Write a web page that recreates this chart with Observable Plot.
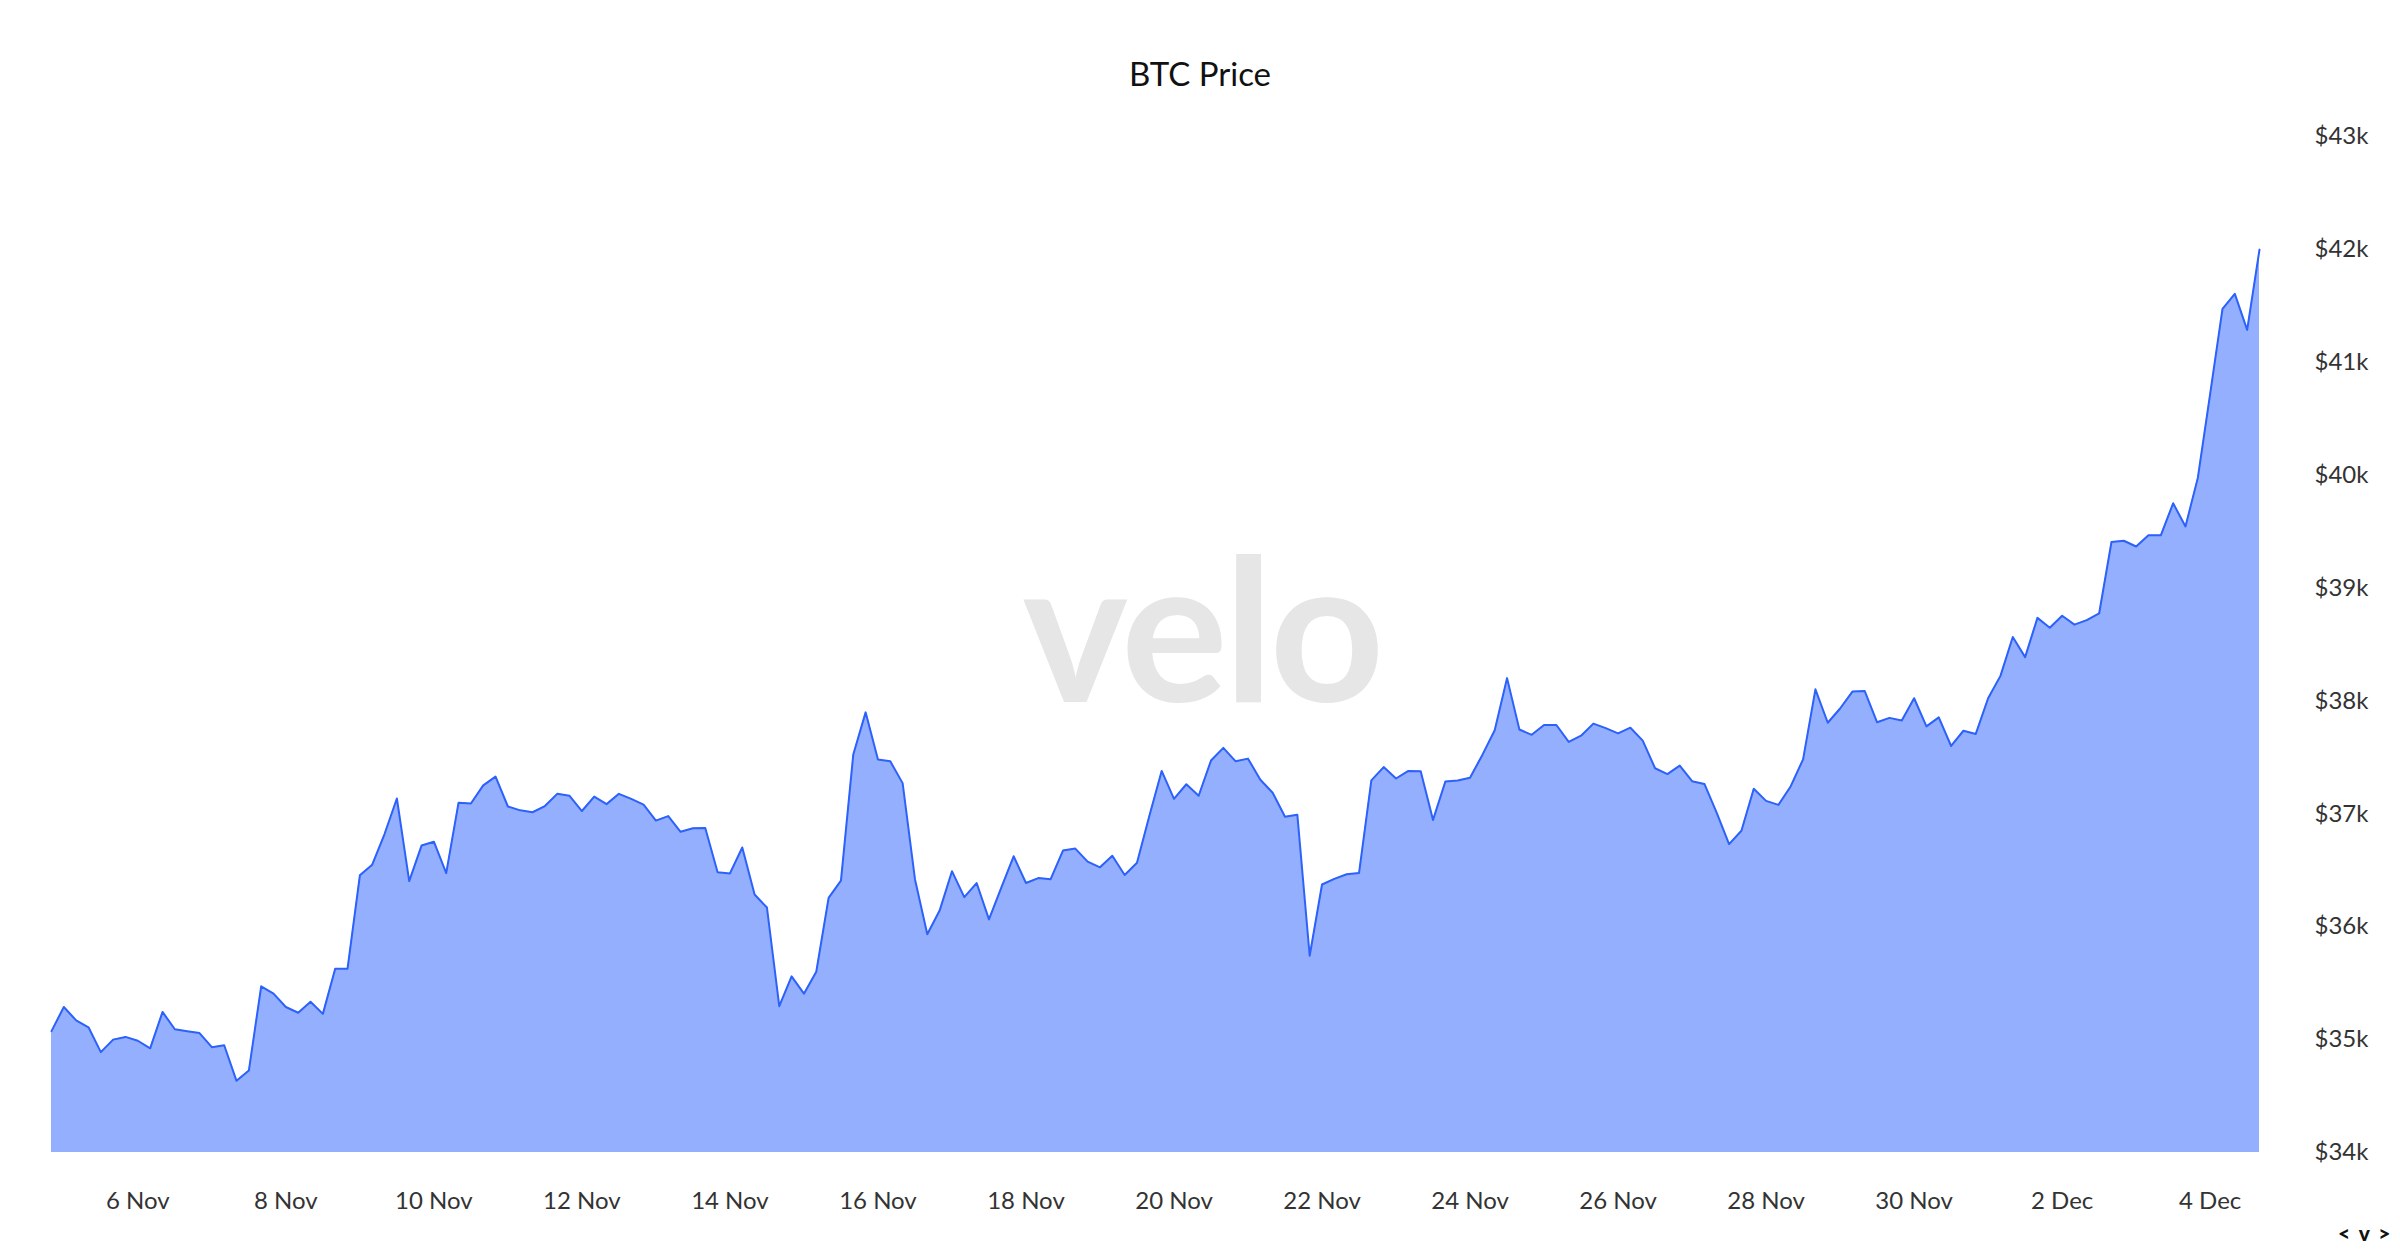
<!DOCTYPE html>
<html>
<head>
<meta charset="utf-8">
<script src="https://cdn.jsdelivr.net/npm/d3@7"></script>
<script src="https://cdn.jsdelivr.net/npm/@observablehq/plot@0.6"></script>
<style>
  html, body { margin: 0; padding: 0; background: #fff; overflow: hidden; }
  body { width: 2400px; height: 1256px; position: relative; font-family: Lato, "Noto Sans", sans-serif; }
  #title { height: 110px; box-sizing: border-box; padding-top: 56px; text-align: center; font-size: 33px; line-height: 34px; color: #111; }
  #nav { position: absolute; left: 2338px; top: 1220px; font-size: 21px; font-weight: 900; color: #111; letter-spacing: 2px; }
</style>
</head>
<body>
<div id="title">BTC Price</div>
<div id="chart"></div>
<div id="nav">&lt; v &gt;</div>
<script>
// 4-hour candles, first candle at 2023-11-04 20:00 UTC
const startTime = "2023-11-04T20:00:00Z";
const stepHours = 4;
const prices = [
  35075, 35289, 35170, 35109, 34889, 35000, 35024, 34990, 34923, 35245,
  35092, 35075, 35058, 34933, 34950, 34635, 34726, 35472, 35407, 35289,
  35238, 35336, 35228, 35628, 35628, 36455, 36550, 36821, 37136, 36404,
  36719, 36753, 36475, 37099, 37092, 37252, 37330, 37065, 37031, 37014,
  37069, 37177, 37160, 37025, 37153, 37086, 37177, 37133, 37082, 36940,
  36980, 36841, 36872, 36875, 36482, 36472, 36702, 36285, 36170, 35296,
  35560, 35407, 35601, 36255, 36408, 37526, 37899, 37482, 37465, 37272,
  36421, 35933, 36143, 36492, 36262, 36387, 36065, 36347, 36624, 36387,
  36431, 36421, 36675, 36692, 36577, 36526, 36628, 36458, 36567, 36980,
  37380, 37133, 37262, 37160, 37472, 37584, 37465, 37489, 37302, 37187,
  36974, 36991, 35743, 36374, 36424, 36465, 36475, 37296, 37414, 37313,
  37380, 37377, 36946, 37286, 37296, 37320, 37522, 37740, 38202, 37747,
  37700, 37787, 37787, 37637, 37692, 37799, 37759, 37712, 37763, 37649,
  37404, 37352, 37427, 37289, 37265, 37008, 36732, 36850, 37222, 37115,
  37079, 37245, 37483, 38103, 37807, 37933, 38083, 38087, 37811, 37850,
  37827, 38024, 37775, 37854, 37601, 37736, 37708, 38024, 38222, 38566,
  38388, 38736, 38649, 38755, 38676, 38716, 38775, 39408, 39419, 39368,
  39467, 39467, 39751, 39546, 39976, 40720, 41473, 41606, 41287, 41998
];
const xTickLabels = ["2023-11-06","2023-11-08","2023-11-10","2023-11-12","2023-11-14","2023-11-16","2023-11-18","2023-11-20","2023-11-22","2023-11-24","2023-11-26","2023-11-28","2023-11-30","2023-12-02","2023-12-04"];
const yTicks = [34000, 35000, 36000, 37000, 38000, 39000, 40000, 41000, 42000, 43000];
const yDomain = [34000, 43000];

const t0 = new Date(startTime).getTime();
const data = prices.map((p, i) => ({t: new Date(t0 + i * stepHours * 3600e3), p}));
const xTicks = xTickLabels.map(s => new Date(s + "T00:00:00Z"));

const chart = Plot.plot({
  width: 2400,
  height: 1146,
  marginTop: 26,
  marginBottom: 104,
  marginLeft: 51,
  marginRight: 141,
  style: {fontFamily: "Lato, 'Noto Sans', sans-serif", fontSize: "24px", color: "#333", background: "#fff", overflow: "visible"},
  x: {type: "utc", domain: [data[0].t, data[data.length - 1].t], ticks: xTicks, tickFormat: d3.utcFormat("%-d %b"), tickSize: 0, tickPadding: 39, label: null},
  y: {domain: yDomain, ticks: yTicks, tickFormat: d => `$${d / 1000}k`, axis: "right", tickSize: 0, tickPadding: 55, label: null},
  marks: [
    Plot.text(["velo"], {frameAnchor: "middle", text: d => d, fontSize: 200, fontWeight: 700, fill: "#e6e6e6", dx: 46, dy: -7, className: "wm"}),
    Plot.areaY(data, {x: "t", y1: yDomain[0], y2: "p", fill: "#94affe"}),
    Plot.lineY(data, {x: "t", y: "p", stroke: "#2c62fb", strokeWidth: 2})
  ]
});
d3.select(chart).selectAll(".wm text").attr("letter-spacing", -4);
document.getElementById("chart").appendChild(chart);
</script>
</body>
</html>
